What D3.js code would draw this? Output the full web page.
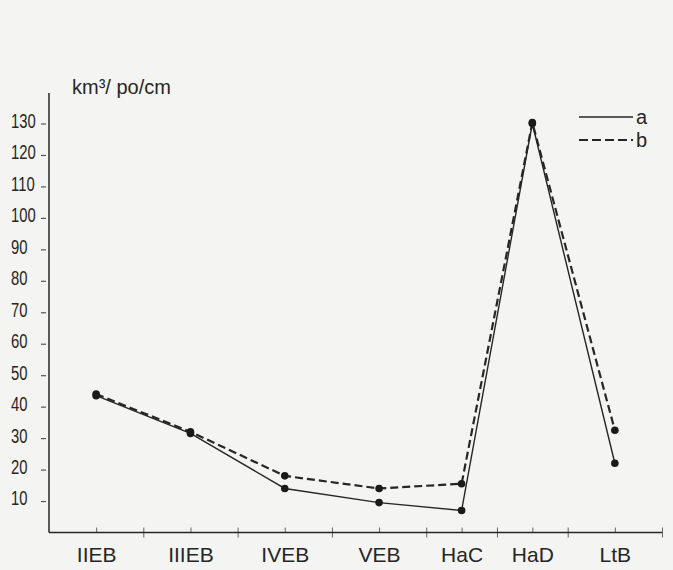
<!DOCTYPE html>
<html>
<head>
<meta charset="utf-8">
<script src="https://cdn.jsdelivr.net/npm/d3@7/dist/d3.min.js"></script>
<style>
  html, body { margin: 0; padding: 0; background: #f4f4f2; }
  svg { display: block; }
</style>
</head>
<body>
<svg id="chart" width="673" height="570"></svg>
<script>
// ---- data ----
const categories = ["IIEB", "IIIEB", "IVEB", "VEB", "HaC", "HaD", "LtB"];
// position of each period on the (chronological) x axis, in axis units
const categoryPos = [1, 3, 5, 7, 8.75, 10.25, 12];
// period boundary ticks on the x axis
const boundaryPos = [2, 4, 6, 8, 9.5, 11, 13];
const seriesA = [43.5, 31.5, 14, 9.5, 7, 130, 22];
const seriesB = [44, 32, 18, 14, 15.5, 130.3, 32.5];
const yTicks = [10, 20, 30, 40, 50, 60, 70, 80, 90, 100, 110, 120, 130];
const yTitle = "km³/ po/cm";
const legendLabels = ["a", "b"];

// ---- layout ----
const svg = d3.select("#chart");
const ink = "#262626";
const x0 = 49, x1 = 662, yBase = 532.5;

const x = d3.scaleLinear().domain([0, 13]).range([x0, x1]);
const y = d3.scaleLinear().domain([0, 130]).range([yBase, 123.5]);

const fontMain = "'Liberation Sans', Arial, sans-serif";

// y axis
const yAxis = svg.append("g").attr("transform", `translate(${x0},0)`)
  .call(d3.axisLeft(y).tickValues(yTicks).tickSize(0).tickPadding(0));
yAxis.select(".domain").remove();
yAxis.selectAll(".tick text")
  .attr("x", -38).attr("dy", "0.2em")
  .attr("text-anchor", "start")
  .attr("fill", ink)
  .style("font-family", fontMain)
  .style("font-size", "19.5px")
  .each(function () {
    const w = this.getComputedTextLength();
    d3.select(this).attr("textLength", w * 0.76).attr("lengthAdjust", "spacingAndGlyphs");
  });
yAxis.selectAll(".tick").append("line")
  .attr("x1", -8).attr("x2", -3)
  .attr("stroke", "#555").attr("stroke-width", 1.2);
svg.append("line")
  .attr("x1", x0).attr("x2", x0).attr("y1", 93).attr("y2", yBase)
  .attr("stroke", ink).attr("stroke-width", 1.5);

// x axis: category ticks with labels
const xAxisCat = svg.append("g").attr("transform", `translate(0,${yBase})`)
  .call(d3.axisBottom(x).tickValues(categoryPos)
    .tickFormat((d, i) => categories[i]).tickSize(0).tickPadding(15));
xAxisCat.select(".domain").remove();
xAxisCat.selectAll(".tick text")
  .attr("fill", ink)
  .style("font-family", fontMain)
  .style("font-size", "21px");
xAxisCat.selectAll(".tick").append("line")
  .attr("y1", -5).attr("y2", 0)
  .attr("stroke", "#666").attr("stroke-width", 1);

// x axis: boundary ticks
const xAxisB = svg.append("g").attr("transform", `translate(0,${yBase})`)
  .call(d3.axisBottom(x).tickValues(boundaryPos).tickFormat("").tickSize(0));
xAxisB.select(".domain").remove();
xAxisB.selectAll(".tick").append("line")
  .attr("y1", -5).attr("y2", 5)
  .attr("stroke", "#666").attr("stroke-width", 1);

svg.append("line")
  .attr("x1", x0).attr("x2", x1).attr("y1", yBase).attr("y2", yBase)
  .attr("stroke", ink).attr("stroke-width", 1.5);

// y title
svg.append("text")
  .attr("x", 72).attr("y", 94)
  .attr("fill", ink)
  .style("font-family", fontMain)
  .style("font-size", "20px")
  .text(yTitle);

// lines
const line = d3.line().x((d, i) => x(categoryPos[i])).y(d => y(d));
svg.append("path").datum(seriesB)
  .attr("d", line).attr("fill", "none")
  .attr("stroke", ink).attr("stroke-width", 2.2)
  .attr("stroke-dasharray", "8,4");
svg.append("path").datum(seriesA)
  .attr("d", line).attr("fill", "none")
  .attr("stroke", ink).attr("stroke-width", 1.4);

[seriesA, seriesB].forEach(s => {
  svg.append("g").selectAll("circle").data(s).join("circle")
    .attr("cx", (d, i) => x(categoryPos[i]))
    .attr("cy", d => y(d))
    .attr("r", 3.8)
    .attr("fill", "#1a1a1a");
});

// legend
const legend = svg.append("g");
const legendY = [117, 140];
legendLabels.forEach((lab, i) => {
  legend.append("line")
    .attr("x1", 579).attr("x2", 633)
    .attr("y1", legendY[i]).attr("y2", legendY[i])
    .attr("stroke", ink)
    .attr("stroke-width", i === 0 ? 1.3 : 2)
    .attr("stroke-dasharray", i === 0 ? null : "9,4");
  legend.append("text")
    .attr("x", 636).attr("y", legendY[i]).attr("dy", "0.35em")
    .attr("fill", ink)
    .style("font-family", fontMain)
    .style("font-size", "20px")
    .text(lab);
});
</script>
</body>
</html>
